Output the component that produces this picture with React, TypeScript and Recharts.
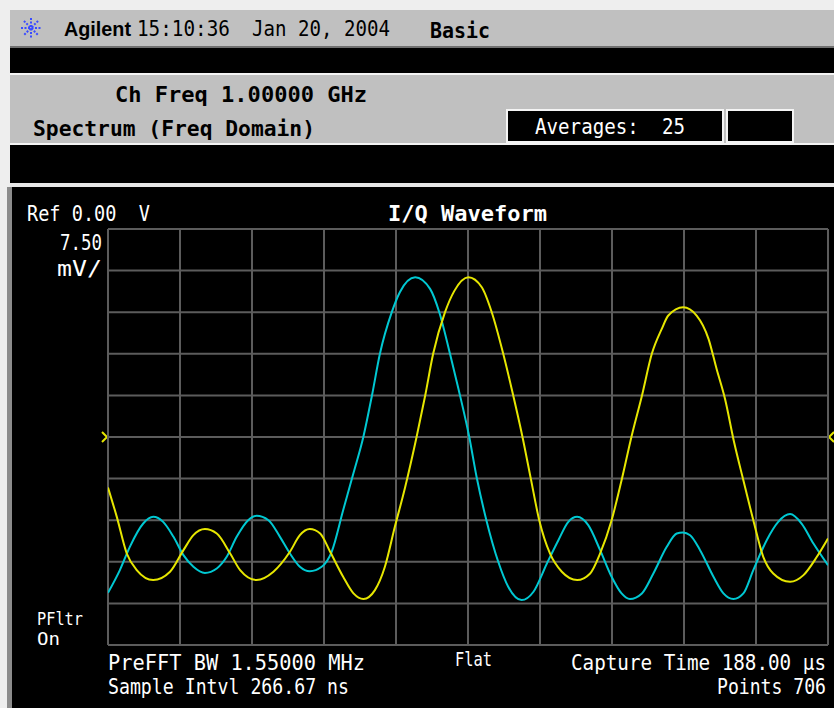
import React from "react";
import { LineChart, Line, XAxis, YAxis, ReferenceLine } from "recharts";

// Time axis (µs) and voltage (mV) readings for the I (yellow) trace
const iTime = [0, 2.3, 4.9, 7.5, 11.8, 16.2, 19.7, 22.3, 25.3, 28.4, 31.9, 34.5, 38.8, 43.2, 47.5, 50.1, 52.7, 55.4, 58.0, 61.4, 64.1, 66.7, 69.7, 72.3, 74.9, 77.6, 80.6, 82.8, 84.9, 88.0, 90.4, 94.1, 97.6, 100.2, 103.2, 105.4, 108.2, 110.4, 112.6, 115.4, 118.5, 122.5, 125.9, 128.5, 131.5, 134.1, 136.7, 139.4, 142.0, 144.6, 146.3, 150.2, 153.7, 156.8, 158.9, 161.1, 163.5, 165.9, 168.5, 171.1, 173.7, 178.1, 181.6, 185.1, 188.0];
const iValues = [-9.1, -14.4, -21.0, -24.0, -25.8, -24.3, -20.4, -17.7, -16.6, -17.4, -21.0, -24.0, -25.8, -24.3, -20.7, -17.7, -16.6, -17.4, -20.7, -25.2, -28.2, -29.2, -27.6, -23.4, -16.2, -9.0, 0.1, 7.4, 15.0, 22.5, 26.3, 28.8, 27.0, 22.5, 15.0, 8.7, 0.1, -7.5, -15.0, -21.0, -24.3, -25.8, -24.6, -21.0, -15.0, -7.8, 0.1, 7.4, 15.0, 19.5, 21.9, 23.4, 21.9, 17.7, 12.3, 6.9, -1.0, -7.8, -15.0, -21.6, -24.6, -26.1, -24.9, -21.6, -18.3];

// Q (cyan) trace
const qTime = [0, 3.1, 5.7, 9.2, 11.8, 14.4, 17.1, 19.7, 22.3, 25.3, 28.4, 31.0, 33.6, 36.6, 38.8, 41.9, 44.9, 47.5, 50.1, 52.7, 55.8, 58.4, 61.4, 64.1, 66.7, 68.9, 71.0, 74.1, 76.2, 80.2, 84.1, 86.5, 89.3, 91.5, 94.3, 96.3, 98.8, 101.9, 104.5, 108.0, 111.1, 114.6, 117.6, 120.2, 122.5, 125.4, 128.5, 131.5, 134.1, 136.3, 139.4, 142.4, 145.9, 148.5, 150.1, 152.0, 154.6, 158.1, 160.7, 163.3, 165.9, 168.5, 172.0, 175.0, 178.1, 181.1, 184.2, 188.0];
const qValues = [-28.1, -24.0, -19.8, -15.6, -14.4, -15.3, -18.0, -21.3, -23.4, -24.5, -23.7, -21.6, -18.0, -15.0, -14.2, -15.0, -18.0, -21.0, -23.4, -24.2, -23.4, -20.7, -13.2, -6.5, 0.1, 7.4, 15.0, 22.5, 26.1, 28.8, 26.7, 22.5, 15.0, 8.7, 0.1, -7.4, -15.0, -22.5, -27.0, -29.4, -27.9, -22.8, -18.6, -15.3, -14.4, -15.9, -20.4, -25.2, -28.2, -29.2, -28.2, -24.6, -19.8, -17.4, -17.2, -17.7, -20.4, -25.2, -28.2, -29.2, -28.2, -24.0, -18.6, -15.3, -13.9, -15.6, -19.2, -23.1];

// Grid divisions: 18.8 µs/div, 7.5 mV/div
const xGridTicks = [0, 18.8, 37.6, 56.4, 75.2, 94, 112.8, 131.6, 150.4, 169.2, 188];
const yGridTicks = [-37.5, -30, -22.5, -15, -7.5, 0, 7.5, 15, 22.5, 30, 37.5];

const iData = iTime.map((t, k) => ({ t, v: iValues[k] }));
const qData = qTime.map((t, k) => ({ t, v: qValues[k] }));

const MONO = "'DejaVu Sans Mono', monospace";

function T(props: {
  x: number;
  y: number;
  w: number;
  size?: number;
  bold?: boolean;
  fill?: string;
  family?: string;
  children: string;
}) {
  const { x, y, w, size = 22, bold = false, fill = "#ffffff", family = MONO, children } = props;
  const isMono = family === MONO;
  // shrink the font so its natural width equals the target, then stretch it back vertically
  const fit = isMono ? w / (children.length * 0.602) : size;
  const fs = Math.min(size, fit);
  const sy = size / fs;
  return (
    <text
      transform={`translate(${x},${y}) scale(1,${sy.toFixed(3)})`}
      x={0}
      y={0}
      fontSize={fs}
      fontFamily={family}
      fontWeight={bold ? 700 : 400}
      fill={fill}
      textLength={w}
      lengthAdjust="spacingAndGlyphs"
      xmlSpace="preserve"
      style={{ whiteSpace: "pre" }}
    >
      {children}
    </text>
  );
}

function Star() {
  const cx = 31;
  const cy = 28;
  const r = 10;
  const angles = [0, 45, 90, 135];
  return (
    <g stroke="#3a4cff" strokeWidth={2} strokeDasharray="2 1.5">
      {angles.map((a) => {
        const rad = (a * Math.PI) / 180;
        return (
          <line
            key={a}
            x1={cx - r * Math.cos(rad)}
            y1={cy - r * Math.sin(rad)}
            x2={cx + r * Math.cos(rad)}
            y2={cy + r * Math.sin(rad)}
          />
        );
      })}
    </g>
  );
}

export default function App() {
  return (
    <div style={{ position: "absolute", left: 0, top: 0, width: 834, height: 708, overflow: "hidden" }}>
      <style>{`body{margin:0}`}</style>
      <svg width={834} height={708} style={{ position: "absolute", left: 0, top: 0 }}>
        <rect x={0} y={0} width={834} height={708} fill="#eeeeee" />
        {/* header */}
        <rect x={10} y={10} width={824} height={37} fill="#c0c0c0" />
        <Star />
        <T x={64} y={36} w={67} size={20} bold family="'Liberation Sans', Arial, sans-serif" fill="#000">Agilent</T>
        <T x={137} y={36} w={93} fill="#000">15:10:36</T>
        <T x={252} y={36} w={138} fill="#000">Jan 20, 2004</T>
        <T x={430} y={38} w={60} bold fill="#000">Basic</T>
        {/* black band 1 */}
        <rect x={10} y={46} width={824} height={2} fill="#707070" />
        <rect x={10} y={48} width={824} height={25} fill="#000" />
        <rect x={10} y={73} width={824} height={2} fill="#f4f4f4" />
        {/* grey band */}
        <rect x={10} y={75} width={824} height={68} fill="#c0c0c0" />
        <T x={115} y={102} w={252} bold fill="#000">Ch Freq 1.00000 GHz</T>
        <T x={33} y={136} w={282} bold fill="#000">Spectrum (Freq Domain)</T>
        <rect x={507} y={110} width={216} height={32} fill="#000" stroke="#f4f4f4" strokeWidth={2} />
        <rect x={727} y={110} width={66} height={32} fill="#000" stroke="#f4f4f4" strokeWidth={2} />
        <T x={535} y={134} w={150}>Averages:  25</T>
        {/* black band 2 */}
        <rect x={10} y={143} width={824} height={2} fill="#f4f4f4" />
        <rect x={10} y={145} width={824} height={38} fill="#000" />
        <rect x={10} y={183} width={824} height={4} fill="#e8e8e8" />
        {/* main panel */}
        <rect x={7} y={187} width={827} height={521} fill="#8c8c8c" />
        <rect x={12} y={187} width={822} height={521} fill="#000" />
        <T x={27} y={221} w={123}>Ref 0.00  V</T>
        <T x={388} y={221} w={159} bold>I/Q Waveform</T>
        <T x={60} y={250} w={42}>7.50</T>
        <T x={57} y={276} w={45}>mV/</T>
        <T x={37} y={625} w={46} size={18}>PFltr</T>
        <T x={37} y={645} w={23} size={18}>On</T>
        <T x={108} y={670} w={257}>PreFFT BW 1.55000 MHz</T>
        <T x={455} y={666} w={37} size={19}>Flat</T>
        <T x={571} y={670} w={255}>Capture Time 188.00 μs</T>
        <T x={108} y={694} w={241}>Sample Intvl 266.67 ns</T>
        <T x={717} y={694} w={109}>Points 706</T>
        {/* zero-level markers */}
        <polyline points="102,432 107,437 102,442" fill="none" stroke="#e6e600" strokeWidth={2} />
        <polyline points="834,432 829,437 834,442" fill="none" stroke="#e6e600" strokeWidth={2} />
      </svg>
      <div style={{ position: "absolute", left: 0, top: 0 }}>
        <LineChart width={834} height={708} margin={{ top: 229, left: 108, right: 6, bottom: 63 }}>
          <XAxis dataKey="t" type="number" domain={[0, 188]} hide allowDataOverflow />
          <YAxis type="number" domain={[-37.5, 37.5]} hide allowDataOverflow />
          {xGridTicks.map((x) => (
            <ReferenceLine key={"x" + x} x={x} stroke="#5c5c5c" strokeWidth={2} />
          ))}
          {yGridTicks.map((y) => (
            <ReferenceLine key={"y" + y} y={y} stroke="#5c5c5c" strokeWidth={2} />
          ))}
          <Line data={qData} dataKey="v" type="monotone" stroke="#00c8d2" strokeWidth={2} dot={false} isAnimationActive={false} />
          <Line data={iData} dataKey="v" type="monotone" stroke="#e6e600" strokeWidth={2} dot={false} isAnimationActive={false} />
        </LineChart>
      </div>
    </div>
  );
}
